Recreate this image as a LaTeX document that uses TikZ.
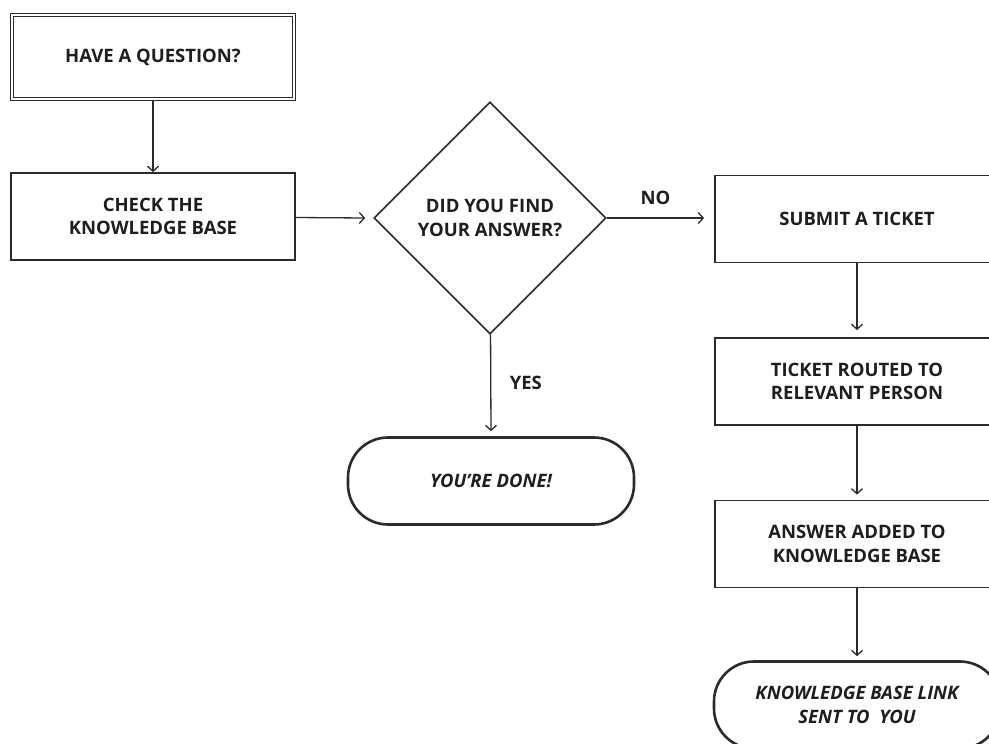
\documentclass[tikz,border=0pt]{standalone}
\usepackage{fontspec}
\setmainfont{Open Sans}
\usetikzlibrary{shapes.geometric,arrows.meta}
\definecolor{ink}{HTML}{2B2B2B}
\definecolor{txtc}{HTML}{1E1E1E}
\begin{document}
\begin{tikzpicture}[x=1pt,y=-1pt,
  txt/.style={font=\bfseries\fontsize{18.5}{23.5}\selectfont, text=txtc, align=center},
  procbox/.style={txt, draw=ink, line width=1.8pt, minimum width=284pt, minimum height=87pt, inner sep=0pt},
  startbox/.style={txt, draw=ink, double=white, double distance=2.2pt, line width=1.2pt, minimum width=282pt, minimum height=84pt, inner sep=0pt},
  decbox/.style={txt, draw=ink, line width=1.6pt, diamond, minimum width=232pt, minimum height=232pt, inner sep=0pt},
  termbox/.style={txt, font=\bfseries\itshape\fontsize{18.5}{23.5}\selectfont, draw=ink, line width=2.6pt, rounded corners=40pt, minimum width=286pt, minimum height=87pt, inner sep=0pt},
  lbl/.style={font=\bfseries\fontsize{18.5}{23.5}\selectfont, text=txtc},
  arr/.style={draw=ink, line width=1.3pt, -{Straight Barb[length=5pt,width=11pt,line width=1.3pt]}}
]
\useasboundingbox (0,0) rectangle (989,744);
\fill[white] (0,0) rectangle (989,744);
\clip (0,0) rectangle (989,744);

\node[startbox] (q) at (153,57) {HAVE A QUESTION?};
\node[procbox] (kb) at (153,216.5) {CHECK THE\\KNOWLEDGE BASE};
\node[decbox] (d) at (490,218) {DID YOU FIND\\YOUR ANSWER?};
\node[procbox] (t) at (857,219) {SUBMIT A TICKET};
\node[procbox] (r) at (857,381.5) {TICKET ROUTED TO\\RELEVANT PERSON};
\node[procbox] (a) at (857,544) {ANSWER ADDED TO\\KNOWLEDGE BASE};
\node[termbox] (done) at (491,481) {YOU’RE DONE!};
\node[termbox] (link) at (857,705) {KNOWLEDGE BASE LINK\\SENT TO\ \ YOU};

\draw[arr] (q) -- (kb);
\draw[arr] (kb) -- ([xshift=-8pt]d.west);
\draw[arr] (d) -- node[lbl, above=9pt] {NO} ([xshift=-10pt]t.west |- d.east);
\draw[arr] (d) -- node[lbl, right=15pt] {YES} ([yshift=5pt]done.north);
\draw[arr] (t) -- ([yshift=7pt]r.north);
\draw[arr] (r) -- ([yshift=5pt]a.north);
\draw[arr] (a) -- ([yshift=4pt]link.north);
\end{tikzpicture}
\end{document}
